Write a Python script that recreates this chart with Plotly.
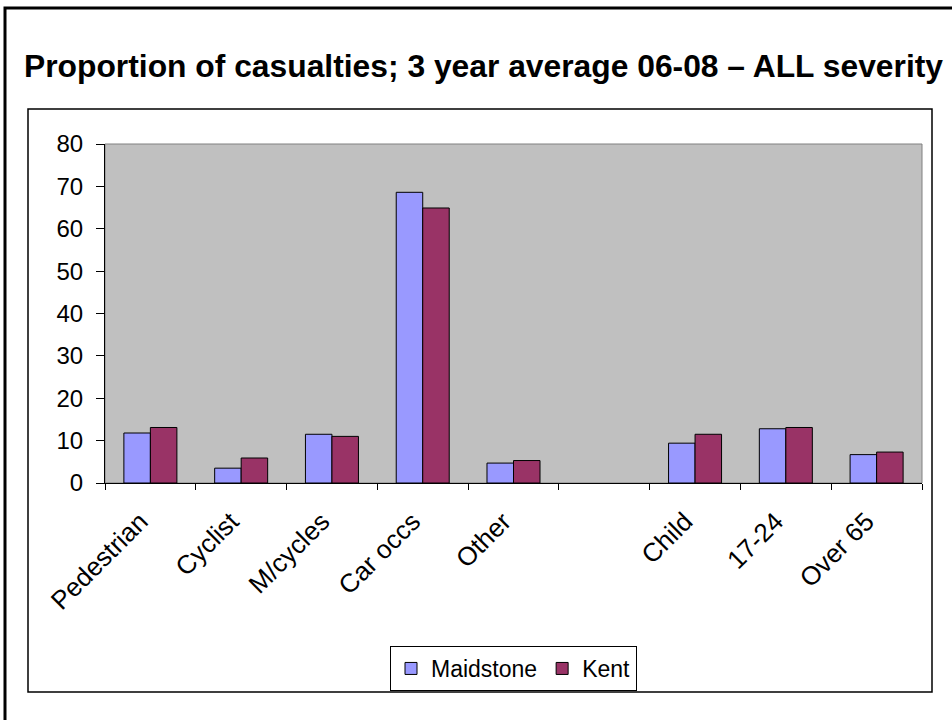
import plotly.graph_objects as go

# Casualty proportions (%) by road-user group and age band
categories = ["Pedestrian", "Cyclist", "M/cycles", "Car occs", "Other", " ", "Child", "17-24", "Over 65"]
maidstone = [11.8, 3.5, 11.5, 68.6, 4.7, None, 9.4, 12.8, 6.7]
kent = [13.1, 5.9, 11.0, 64.9, 5.3, None, 11.5, 13.1, 7.3]
y_ticks = [0, 10, 20, 30, 40, 50, 60, 70, 80]

W, H = 952, 720
PL, PR, PT, PB = 105, 922, 144, 483  # plot-area edges in pixels


def px(x):
    return (x - PL) / (PR - PL)


def py(y):
    return (PB - y) / (PB - PT)


FONT = "Liberation Sans, Arial, sans-serif"

fig = go.Figure()
fig.add_trace(go.Bar(name="Maidstone", x=categories, y=maidstone,
                     marker=dict(color="#9999FF", line=dict(color="black", width=1))))
fig.add_trace(go.Bar(name="Kent", x=categories, y=kent,
                     marker=dict(color="#993366", line=dict(color="black", width=1))))

fig.update_layout(
    width=W, height=H, autosize=False,
    margin=dict(l=PL, r=W - PR, t=PT, b=H - PB, pad=0),
    paper_bgcolor="white",
    plot_bgcolor="#C0C0C0",
    barmode="group", bargap=0.416, bargroupgap=0,
    font=dict(family=FONT, color="black", size=22),
    showlegend=True,
    legend=dict(orientation="h", x=0.5, xanchor="center", y=py(646), yanchor="top",
                bordercolor="black", borderwidth=1, bgcolor="white",
                font=dict(size=23), itemwidth=30, traceorder="normal"),
    xaxis=dict(type="category", showline=True, linecolor="black", linewidth=1,
               ticks="outside", tickson="boundaries", ticklen=6, tickcolor="black",
               tickangle=-45, showgrid=False, tickfont=dict(size=26),
               ticklabelstandoff=12, ticklabelshift=-10, fixedrange=True),
    yaxis=dict(range=[0, 80], tickvals=y_ticks, showline=True, linecolor="black", linewidth=1,
               ticks="outside", ticklen=8, tickcolor="black", showgrid=False, zeroline=False,
               tickfont=dict(size=24), ticklabelstandoff=8, fixedrange=True),
    shapes=[
        # outer frame
        dict(type="rect", xref="paper", yref="paper", x0=px(5), y0=py(8), x1=px(975), y1=py(745),
             line=dict(color="black", width=3), fillcolor="rgba(0,0,0,0)", layer="below"),
        # chart area frame
        dict(type="rect", xref="paper", yref="paper", x0=px(28), y0=py(109), x1=px(932), y1=py(692),
             line=dict(color="black", width=1.5), fillcolor="rgba(0,0,0,0)", layer="below"),
        # plot area border
        dict(type="rect", xref="paper", yref="paper", x0=0, y0=0, x1=1, y1=1,
             line=dict(color="#808080", width=1), fillcolor="rgba(0,0,0,0)", layer="below"),
    ],
    annotations=[
        dict(text="<b>Proportion of casualties; 3 year average 06-08 – ALL severity</b>",
             xref="paper", yref="paper", x=px(22), y=py(66), xanchor="left", yanchor="middle",
             showarrow=False, font=dict(family=FONT, size=31.8, color="black")),
    ],
)

fig.write_html("out.html")
